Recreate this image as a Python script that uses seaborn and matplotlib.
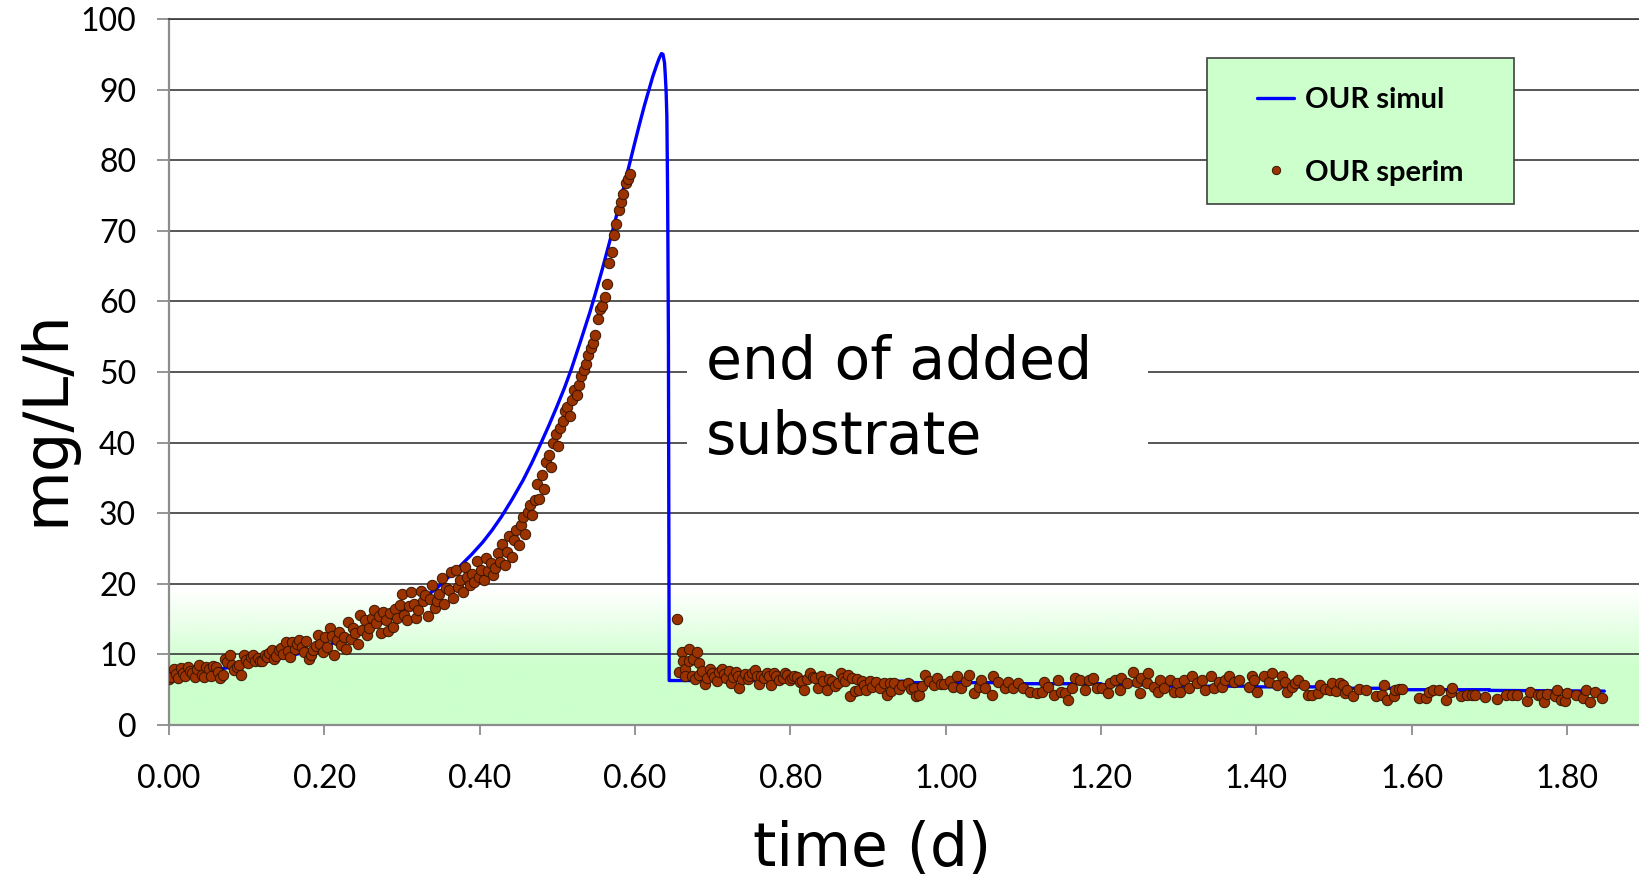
import numpy as np
import pandas as pd
import matplotlib
matplotlib.use("Agg")
import matplotlib.pyplot as plt
from matplotlib.patches import Rectangle
from matplotlib.lines import Line2D
import seaborn as sns

# ---- simulated OUR (mg/L/h) vs time (d) ----
simul_t = [0.000, 0.050, 0.100, 0.150, 0.200, 0.250, 0.290, 0.320, 0.345, 0.372,
           0.390, 0.404, 0.416, 0.428, 0.442, 0.456, 0.467, 0.478, 0.489, 0.499,
           0.509, 0.518, 0.530, 0.542, 0.550, 0.558, 0.566, 0.573, 0.583, 0.593,
           0.600, 0.606, 0.612, 0.618, 0.623, 0.628, 0.631, 0.634, 0.636, 0.638,
           0.639, 0.640, 0.641, 0.642, 0.643, 0.644,
           0.826, 0.826, 0.957, 0.957, 1.097, 1.097, 1.200, 1.200, 1.270, 1.270,
           1.400, 1.400, 1.490, 1.490, 1.580, 1.580, 1.700, 1.700, 1.848]
simul_v = [7.1, 7.7, 8.5, 9.6, 11.1, 13.2, 15.3, 17.3, 19.4, 22.2,
           24.2, 25.9, 27.6, 29.5, 32.0, 34.7, 37.1, 39.7, 42.4, 45.0,
           47.7, 50.4, 54.4, 58.5, 61.5, 64.6, 67.9, 70.8, 75.1, 79.5,
           82.6, 85.2, 87.7, 90.0, 91.9, 93.5, 94.4, 95.1, 95.0, 93.8,
           92.0, 89.9, 86.2, 75.0, 55.0, 6.3,
           6.3, 6.2, 6.2, 6.0, 6.0, 5.85, 5.85, 5.7, 5.7, 5.5,
           5.5, 5.4, 5.4, 5.2, 5.2, 5.0, 5.0, 4.9, 4.8]

# ---- measured OUR during substrate addition (sampled every 0.003 d) ----
rise_start = 0.0
rise_step = 0.003
rise_v = [
    6.5, 6.8, 7.9, 7.2, 6.6, 8.1, 7.4, 7.0, 8.2, 7.6,
    7.3, 6.8, 8.0, 8.5, 7.1, 6.8, 8.2, 7.9, 7.0, 8.4,
    8.2, 7.5, 6.6, 7.1, 9.4, 8.9, 9.9, 8.5, 7.8, 8.2,
    8.5, 7.1, 9.9, 9.2, 8.8, 9.6, 9.9, 9.0, 9.5, 9.1,
    9.0, 9.9, 9.6, 10.2, 10.6, 9.4, 9.8, 10.6, 10.9, 10.1,
    11.8, 10.5, 9.7, 11.8, 10.8, 11.5, 12.0, 11.1, 10.4, 11.9,
    9.4, 9.9, 10.6, 11.2, 12.7, 11.5, 10.3, 12.5, 11.0, 13.7,
    12.6, 9.9, 12.0, 13.2, 11.3, 12.4, 10.8, 14.6, 12.2, 13.7,
    13.0, 11.5, 15.6, 13.5, 14.9, 12.8, 13.7, 15.2, 16.3, 14.4,
    15.4, 13.0, 16.0, 14.9, 13.3, 15.8, 13.9, 16.5, 15.1, 17.0,
    18.6, 15.6, 14.9, 16.8, 18.9, 17.2, 15.2, 16.3, 19.0, 17.5,
    18.4, 15.4, 17.8, 19.8, 16.6, 17.5, 18.6, 20.8, 17.2, 19.4,
    19.1, 21.7, 18.0, 21.9, 19.6, 20.5, 18.8, 22.4, 20.9, 19.8,
    21.4, 20.2, 23.3, 21.0, 22.0, 20.6, 23.7, 21.8, 22.9, 21.2,
    22.3, 24.3, 23.1, 25.7, 22.6, 24.5, 26.8, 23.8, 26.2, 27.6,
    25.5, 28.3, 29.5, 27.0, 30.2, 31.2, 29.8, 31.9, 34.2, 32.0,
    35.4, 33.4, 37.3, 38.3, 36.6, 40.0, 41.2, 39.5, 42.0, 43.1,
    44.5, 45.1, 43.8, 46.1, 47.5, 46.8, 48.2, 49.4, 50.3, 51.2,
    52.4, 53.4, 54.1, 55.3, 57.5, 58.9, 59.4, 60.6, 62.4, 65.4,
    67.0, 69.4, 70.9, 73.0, 74.1, 75.2, 76.7, 77.4, 78.1]

# ---- measured OUR after the end of substrate addition ----
decay_t_1 = [0.654, 0.657, 0.660, 0.662, 0.664, 0.665, 0.669, 0.670, 0.673, 0.675,
             0.677, 0.680, 0.682, 0.683, 0.686, 0.690, 0.693, 0.696, 0.699, 0.702,
             0.705, 0.708, 0.712, 0.714, 0.717, 0.721, 0.723, 0.726, 0.730, 0.732,
             0.734, 0.738, 0.742, 0.745, 0.747, 0.750, 0.754, 0.757, 0.759, 0.762,
             0.766, 0.770, 0.772, 0.775, 0.779, 0.782, 0.786, 0.790, 0.793, 0.796,
             0.799, 0.802, 0.805, 0.809, 0.812, 0.815, 0.818, 0.822, 0.825, 0.829,
             0.832, 0.836, 0.839, 0.842, 0.847, 0.850, 0.853, 0.857, 0.861, 0.865,
             0.868, 0.870, 0.874, 0.877, 0.879, 0.883, 0.886, 0.888, 0.892, 0.895,
             0.898, 0.903, 0.905, 0.910, 0.916, 0.920, 0.925, 0.928, 0.930, 0.933,
             0.940, 0.944, 0.951, 0.955, 0.959, 0.962, 0.966, 0.970, 0.974, 0.979,
             0.985, 0.989, 0.994, 0.998, 1.005, 1.009, 1.015, 1.020, 1.026, 1.030,
             1.037, 1.043]
decay_v_1 = [15.0, 7.5, 10.4, 9.0, 8.0, 7.0, 10.7, 9.0, 6.9, 9.3,
             6.5, 10.4, 8.8, 7.1, 7.6, 5.8, 6.6, 7.9, 7.3, 6.8,
             6.2, 7.5, 8.0, 7.2, 6.7, 7.7, 6.0, 6.8, 7.5, 7.0,
             5.2, 6.5, 7.2, 6.5, 7.0, 7.3, 7.8, 6.9, 5.8, 6.9,
             6.6, 7.4, 7.0, 5.6, 7.3, 6.9, 6.4, 6.7, 7.4, 7.1,
             6.4, 6.6, 7.0, 6.8, 6.1, 6.3, 5.0, 6.5, 7.4, 6.8,
             6.6, 5.2, 6.9, 6.3, 5.0, 6.5, 6.2, 5.5, 6.0, 7.4,
             6.6, 6.2, 7.1, 4.1, 6.6, 4.8, 6.5, 4.9, 6.2, 5.7,
             5.0, 6.3, 5.4, 6.1, 5.3, 6.0, 4.3, 5.9, 4.8, 6.0,
             5.1, 5.7, 6.0, 5.1, 5.2, 4.1, 4.3, 5.5, 7.1, 6.3,
             5.7, 6.6, 5.8, 5.8, 6.3, 5.4, 6.9, 5.2, 6.2, 7.1,
             4.5, 5.4]

decay_t_2 = [1.045, 1.051, 1.059, 1.061, 1.067, 1.076, 1.080, 1.087, 1.093, 1.100,
             1.109, 1.117, 1.124, 1.126, 1.132, 1.139, 1.145, 1.149, 1.154, 1.158,
             1.162, 1.167, 1.173, 1.180, 1.184, 1.190, 1.195, 1.201, 1.209, 1.212,
             1.218, 1.224, 1.226, 1.233, 1.241, 1.246, 1.250, 1.252, 1.259, 1.261,
             1.268, 1.274, 1.276, 1.281, 1.289, 1.294, 1.298, 1.302, 1.307, 1.313,
             1.317, 1.324, 1.330, 1.334, 1.341, 1.345, 1.352, 1.356, 1.360, 1.365,
             1.371, 1.378, 1.391, 1.394, 1.397, 1.401, 1.410, 1.416, 1.420, 1.427,
             1.433, 1.437, 1.439, 1.446, 1.450, 1.454, 1.461, 1.467]
decay_v_2 = [6.4, 5.2, 4.3, 7.0, 6.1, 5.2, 6.1, 5.2, 5.9, 5.2,
             4.7, 4.5, 4.7, 6.1, 5.4, 4.3, 6.4, 4.7, 4.5, 3.5,
             5.2, 6.7, 6.4, 5.0, 6.4, 6.7, 5.2, 5.2, 4.5, 5.9,
             6.4, 5.0, 6.7, 5.9, 7.5, 6.1, 4.5, 6.7, 5.9, 7.3,
             5.4, 4.7, 6.4, 5.2, 6.4, 4.7, 5.9, 4.7, 6.4, 5.2,
             7.0, 5.9, 6.4, 5.0, 7.0, 5.2, 6.1, 5.4, 6.4, 7.0,
             6.1, 6.4, 5.4, 7.0, 6.4, 4.7, 7.0, 6.1, 7.3, 5.6,
             7.0, 6.1, 4.7, 5.4, 5.9, 6.4, 5.6, 4.3]

decay_t_3 = [1.471, 1.480, 1.482, 1.488, 1.495, 1.497, 1.503, 1.508, 1.512, 1.514,
             1.517, 1.525, 1.532, 1.541, 1.554, 1.562, 1.564, 1.568, 1.577, 1.579,
             1.584, 1.587, 1.609, 1.618, 1.622, 1.627, 1.635, 1.644, 1.650, 1.652,
             1.663, 1.671, 1.678, 1.682, 1.695, 1.710, 1.721, 1.729, 1.736, 1.748,
             1.752, 1.762, 1.766, 1.770, 1.774, 1.785, 1.787, 1.792, 1.798, 1.800,
             1.811, 1.821, 1.825, 1.830, 1.836, 1.845]
decay_v_3 = [4.2, 4.5, 5.7, 5.1, 4.9, 6.0, 4.8, 6.0, 5.7, 4.5,
             4.9, 4.1, 5.1, 5.0, 4.1, 4.3, 5.7, 3.6, 4.1, 4.9,
             5.1, 5.1, 3.8, 3.8, 4.7, 4.9, 4.9, 3.6, 4.7, 5.3,
             4.1, 4.2, 4.2, 4.3, 4.0, 3.7, 4.2, 4.3, 4.3, 3.4,
             4.7, 4.2, 4.3, 3.3, 4.4, 4.1, 5.0, 3.6, 3.4, 4.6,
             4.3, 3.8, 4.9, 3.3, 4.7, 3.8]

series_labels = ["OUR simul", "OUR sperim"]
x_ticks = [0.0, 0.2, 0.4, 0.6, 0.8, 1.0, 1.2, 1.4, 1.6, 1.8]
y_ticks = list(range(0, 101, 10))

rise_t = rise_start + rise_step * np.arange(len(rise_v))
sperim = pd.DataFrame({
    "t": np.concatenate([rise_t, decay_t_1, decay_t_2, decay_t_3]),
    "our": np.concatenate([rise_v, decay_v_1, decay_v_2, decay_v_3]),
})
simul = pd.DataFrame({"t": simul_t, "our": simul_v})

sns.set_style("white")
plt.rcParams["font.family"] = ["Lato", "DejaVu Sans"]
plt.rcParams["text.color"] = "black"
plt.rcParams["xtick.labelcolor"] = "black"
plt.rcParams["ytick.labelcolor"] = "black"

W, H = 1639, 885
PX = 0.72  # points per pixel at 100 dpi
fig = plt.figure(figsize=(W / 100, H / 100), dpi=100)
ax = fig.add_axes([169 / W, 1 - 725 / H, 1475.7 / W, 706 / H])

LINE_BLUE = "#0000ff"
DOT_FILL = "#9b3300"
DOT_EDGE = "#3a1400"
PALE_GREEN = (0.80, 1.0, 0.80)

# pale green band fading upward from the bottom of the plot
gy = np.linspace(0, 20, 300)
alpha = np.clip((19 - gy) / 11.0, 0, 1)
band = np.zeros((len(gy), 1, 4))
band[..., 0], band[..., 1], band[..., 2] = PALE_GREEN
band[:, 0, 3] = alpha
ax.imshow(band, extent=[0, 1.9, 0, 20], origin="lower", aspect="auto",
          zorder=0, interpolation="bilinear")

sns.lineplot(data=simul, x="t", y="our", sort=False, estimator=None,
             color=LINE_BLUE, lw=2.4, ax=ax, zorder=3)
sns.scatterplot(data=sperim, x="t", y="our", s=56, color=DOT_FILL,
                edgecolor=DOT_EDGE, linewidth=0.7, ax=ax, zorder=4)

ax.set_xlim(0, 1.9)
ax.set_ylim(0, 100)
ax.set_xticks(x_ticks)
ax.set_xticklabels([f"{v:.2f}" for v in x_ticks])
ax.set_yticks(y_ticks)
ax.set_xlabel("")
ax.set_ylabel("")

ax.set_axisbelow(True)
ax.yaxis.grid(True, color="#3a3a3a", lw=1.2)
ax.xaxis.grid(False)
for side in ("left", "bottom"):
    ax.spines[side].set_color("#8c8c8c")
    ax.spines[side].set_linewidth(1.6)
ax.spines["top"].set_color("#3a3a3a")
ax.spines["top"].set_linewidth(1.2)
ax.spines["right"].set_visible(False)

ax.tick_params(axis="y", direction="out", length=12 * PX, width=1.3,
               color="#8c8c8c", labelcolor="black", pad=15, labelsize=23, left=True)
ax.tick_params(axis="x", direction="out", length=10 * PX, width=1.3,
               color="#8c8c8c", labelcolor="black", pad=21, labelsize=23, bottom=True)

# white panel behind the annotation
ax.add_patch(Rectangle((0.667, 33.5), 0.593, 24.0, facecolor="white",
                       edgecolor="none", zorder=2))
fig.text(706 / W, 1 - 400 / H, "end of added\nsubstrate", fontsize=42,
         family="DejaVu Sans", color="black", ha="left", va="center",
         linespacing=1.4)

fig.text(46 / W, 1 - 418 / H, "mg/L/h", fontsize=45, family="DejaVu Sans",
         color="black", rotation=90, ha="center", va="center")
fig.text(872 / W, 1 - 850 / H, "time (d)", fontsize=43, family="DejaVu Sans",
         color="black", ha="center", va="center")

# legend panel
fig.add_artist(Rectangle((1207 / W, 1 - 204 / H), 307 / W, 146 / H,
                         transform=fig.transFigure, facecolor="#ccffcc",
                         edgecolor="#404040", lw=1.2, zorder=4.9))
handles = [
    Line2D([], [], color=LINE_BLUE, lw=2.4),
    Line2D([], [], marker="o", ls="none", markersize=6, markerfacecolor=DOT_FILL,
           markeredgecolor=DOT_EDGE, markeredgewidth=0.7),
]
leg = fig.legend(handles, series_labels, loc="upper left",
                 bbox_to_anchor=(1257 / W, 1 - 87 / H), frameon=False,
                 borderpad=0, borderaxespad=0, handlelength=1.27,
                 handletextpad=0.36, labelspacing=1.6,
                 prop={"family": "Lato", "weight": "bold", "size": 21})
leg.set_zorder(6)
for txt in leg.get_texts():
    txt.set_color("black")

fig.savefig("out.png", dpi=100)
